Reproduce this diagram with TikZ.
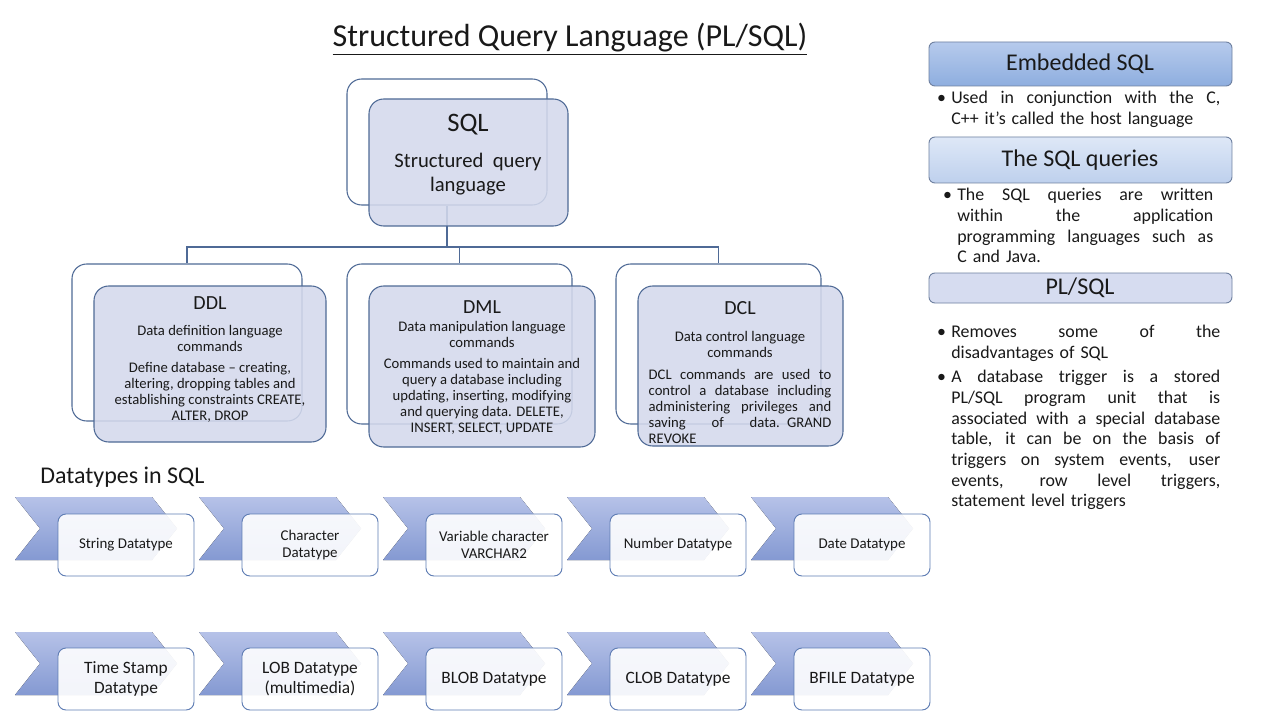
\documentclass[tikz,border=0pt]{standalone}
\usepackage{fontspec}
\setmainfont{Carlito}
\usetikzlibrary{fit}
\definecolor{edge}{RGB}{79,106,150}
\definecolor{frontfill}{RGB}{212,217,236}
\definecolor{ink}{RGB}{25,25,25}
\definecolor{chevtop}{RGB}{182,194,232}
\definecolor{chevbot}{RGB}{132,153,210}
\definecolor{dtedge}{RGB}{95,125,180}
\definecolor{hdredge}{RGB}{110,128,160}
\newcommand{\jline}[2]{\leavevmode\hbox to #1{\spaceskip=0.226em plus 1fil\relax#2}}
\tikzset{
  backbox/.style={draw=edge, line width=0.8pt, rounded corners=11pt, inner sep=0pt},
  frontbox/.style={draw=edge, line width=0.8pt, rounded corners=11pt, inner sep=0pt, fill=frontfill, fill opacity=0.88},
  conn/.style={draw=edge, line width=0.8pt},
  txt/.style={text=ink, inner sep=0pt, align=center},
  body/.style={txt, font=\fontsize{11}{12}\selectfont},
  chev/.style={top color=chevtop, bottom color=chevbot, draw=none},
  dtbox/.style={draw=dtedge, line width=0.7pt, fill=white, fill opacity=0.9, text opacity=1, text=ink, rounded corners=6pt, minimum width=102pt, minimum height=46.5pt, align=center, inner sep=0pt},
  hdr/.style={draw=hdredge, line width=0.7pt, rounded corners=4.5pt, inner sep=0pt},
  hdrtxt/.style={txt, font=\fontsize{18}{21}\selectfont},
  bul/.style={txt, align=left, anchor=north west, font=\fontsize{13.4}{15.5}\selectfont}
}
\begin{document}
\begin{tikzpicture}[x=0.75pt,y=-0.75pt]
\useasboundingbox[fill=white] (0,0) rectangle (1280,720);

% title
\node[txt, font=\fontsize{24}{28}\selectfont] (title) at (570,39) {\underline{Structured Query Language (PL/SQL)}};

% back boxes
\node[backbox, fit={(347,79) (547,205)}] (sqlB) {};
\node[backbox, fit={(72,264) (302,421)}] (ddlB) {};
\node[backbox, fit={(347,264) (572,424)}] (dmlB) {};
\node[backbox, fit={(616,264) (821,424)}] (dclB) {};

% connectors
\coordinate (bus) at (0,247);
\draw[conn] (sqlB.south) -- (sqlB.south |- bus) -| (ddlB.north);
\draw[conn] (sqlB.south |- bus) -| (dmlB.north);
\draw[conn] (sqlB.south |- bus) -| (dclB.north);

% front boxes
\node[frontbox, fit={(369,99) (568,226)}] (sqlF) {};
\node[frontbox, fit={(94,286) (326,442)}] (ddlF) {};
\node[frontbox, fit={(369,286) (595,447)}] (dmlF) {};
\node[frontbox, fit={(638,286) (843,446)}] (dclF) {};

% SQL texts
\node[txt, font=\fontsize{20}{24}\selectfont] (sqlH) at (468,125) {SQL};
\node[txt, font=\fontsize{15.5}{18}\selectfont] (sqlS) at (468,174) {Structured\ \ query\\language};

% DDL
\node[txt, font=\fontsize{15}{18}\selectfont] (ddlH) at (210,303) {DDL};
\node[body] (ddlS) at (210,374) {Data definition language\\commands\\[4pt]Define database – creating,\\altering, dropping tables and\\establishing constraints CREATE,\\ALTER, DROP};

% DML
\node[txt, font=\fontsize{15}{18}\selectfont] (dmlH) at (482,307) {DML};
\node[body] (dmlS) at (482,378) {Data manipulation language\\commands\\[4pt]Commands used to maintain and\\query a database  including\\updating, inserting, modifying\\and querying data. DELETE,\\INSERT, SELECT, UPDATE};

% DCL
\node[txt, font=\fontsize{15}{18}\selectfont] (dclH) at (740,308) {DCL};
\node[body] (dclS) at (740,344) {Data control language\\commands};
\node[body, align=left, text width=137pt] (dclT) at (740,406) {\jline{137pt}{DCL commands are used to}\\\jline{137pt}{control a database including}\\\jline{137pt}{administering privileges and}\\\jline{137pt}{saving of data. GRAND}\\REVOKE};

% Datatypes
\node[txt, anchor=west, font=\fontsize{18}{22}\selectfont] (dtH) at (40,477) {Datatypes in SQL};

\foreach \i/\t in {0/{String Datatype},1/{Character\\Datatype},2/{Variable character\\VARCHAR2},3/{Number Datatype},4/{Date Datatype}}{
  \pgfmathsetmacro{\L}{15+184*\i}
  \fill[chev] (\L,497) -- ++(137,0) -- ++(25,31.5) -- ++(-25,31.5) -- ++(-137,0) -- ++(25,-31.5) -- cycle;
  \node[dtbox, font=\fontsize{11.2}{13}\selectfont] (ra\i) at (\L+111,545) {\t};
}
\foreach \i/\t in {0/{Time Stamp\\Datatype},1/{LOB Datatype\\(multimedia)},2/{BLOB Datatype},3/{CLOB Datatype},4/{BFILE Datatype}}{
  \pgfmathsetmacro{\L}{15+184*\i}
  \fill[chev] (\L,632) -- ++(137,0) -- ++(25,31.5) -- ++(-25,31.5) -- ++(-137,0) -- ++(25,-31.5) -- cycle;
  \node[dtbox, font=\fontsize{13}{15.5}\selectfont] (rb\i) at (\L+111,679) {\t};
}

% right panel
\node[hdr, top color={rgb,255:red,182;green,202;blue,236}, bottom color={rgb,255:red,142;green,174;blue,223}, fit={(929,42) (1232,86)}] (embB) {};
\node[hdrtxt] (embT) at (1080,64) {Embedded SQL};
\node[bul, text width=201.75pt] (embL) at (951,91) {\llap{•\hspace{4pt}}\jline{201.75pt}{Used in conjunction with the C,}\\C++ it’s called the host language};

\node[hdr, top color={rgb,255:red,222;green,232;blue,247}, bottom color={rgb,255:red,190;green,208;blue,237}, fit={(929,137) (1232,183)}] (qryB) {};
\node[hdrtxt] (qryT) at (1080,160) {The SQL queries};
\node[bul, text width=192pt] (qryL) at (957,188) {\llap{•\hspace{4pt}}\jline{192pt}{The SQL queries are written}\\\jline{192pt}{within the application}\\\jline{192pt}{programming languages such as}\\C and Java.};

\node[hdr, fill={rgb,255:red,214;green,220;blue,240}, fit={(929,273) (1232,303)}] (plB) {};
\node[hdrtxt] (plT) at (1080,288) {PL/SQL};
\node[bul, text width=201.75pt] (plL1) at (951,325) {\llap{•\hspace{4pt}}\jline{201.75pt}{Removes some of the}\\disadvantages of SQL};
\node[bul, text width=201.75pt] (plL2) at (951,370) {\llap{•\hspace{4pt}}\jline{201.75pt}{A database trigger is a stored}\\\jline{201.75pt}{PL/SQL program unit that is}\\\jline{201.75pt}{associated with a special database}\\\jline{201.75pt}{table, it can be on the basis of}\\\jline{201.75pt}{triggers on system events, user}\\\jline{201.75pt}{events, row level triggers,}\\statement level triggers};
\end{tikzpicture}
\end{document}
